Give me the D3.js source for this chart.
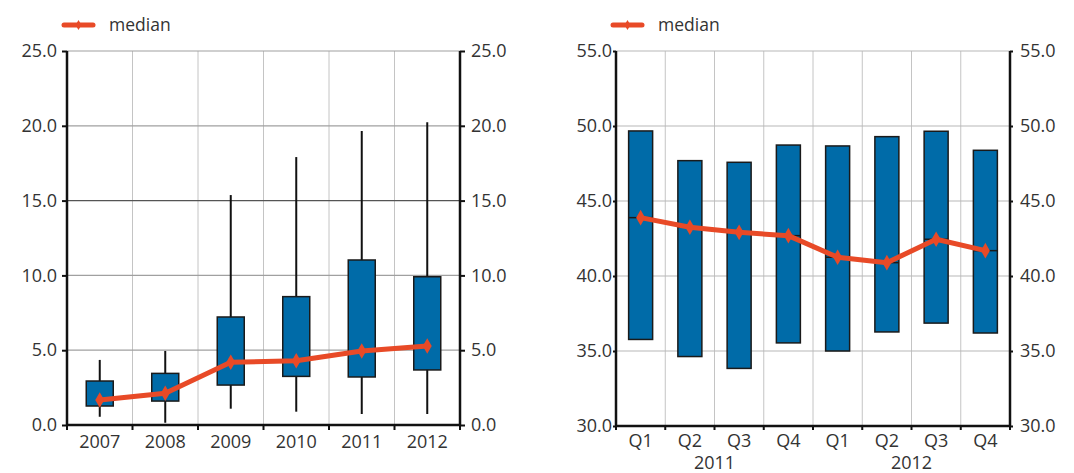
<!DOCTYPE html>
<html>
<head>
<meta charset="utf-8">
<script src="https://cdn.jsdelivr.net/npm/d3@7"></script>
<style>
  body { margin: 0; background: #fff; }
  text { font-family: "Open Sans", "Noto Sans", sans-serif; fill: #333; }
</style>
</head>
<body>
<svg id="chart" width="1074" height="473"></svg>
<script>
// left panel: yearly distribution
var years = ["2007", "2008", "2009", "2010", "2011", "2012"];
var yearMin = [0.55, 0.15, 1.09, 0.89, 0.73, 0.73];
var yearQ1 = [1.27, 1.6, 2.67, 3.25, 3.21, 3.68];
var yearQ3 = [2.94, 3.45, 7.22, 8.58, 11.03, 9.91];
var yearMax = [4.35, 4.95, 15.37, 17.91, 19.65, 20.23];
var yearMedian = [1.67, 2.12, 4.19, 4.3, 4.95, 5.28];
var yearTicks = [0, 5, 10, 15, 20, 25];

// right panel: quarterly range
var quarters = ["Q1", "Q2", "Q3", "Q4", "Q1", "Q2", "Q3", "Q4"];
var quarterYears = ["2011", "2012"];
var quarterLow = [35.77, 34.63, 33.84, 35.54, 35.0, 36.27, 36.86, 36.2];
var quarterHigh = [49.67, 47.69, 47.58, 48.73, 48.67, 49.29, 49.65, 48.38];
var quarterMedian = [43.89, 43.25, 42.91, 42.69, 41.25, 40.89, 42.45, 41.69];
var quarterTicks = [30, 35, 40, 45, 50, 55];

var blue = "#006ba8",
    red = "#e84a27",
    fs = "18px";

var svg = d3.select("#chart");
var fmt = d3.format(".1f");

function legend(x) {
  var g = svg.append("g").attr("transform", "translate(" + x + ",25)");
  g.append("line")
      .attr("x1", 0).attr("x2", 29)
      .attr("stroke", red).attr("stroke-width", 5).attr("stroke-linecap", "round");
  g.append("path")
      .attr("d", d3.symbol(d3.symbolDiamond, 30))
      .attr("transform", "translate(14.5,0)")
      .attr("fill", red);
  g.append("text")
      .attr("x", 45).attr("dy", "0.35em")
      .style("font-size", "17.5px")
      .text("median");
}

// ---------- left chart
(function() {
  var left = 67, right = 460, top = 51, bottom = 425;
  var x = d3.scaleBand().domain(years).range([left, right]);
  var y = d3.scaleLinear().domain([0, 25]).range([bottom, top]);
  var g = svg.append("g");
  var bw = 27;

  // grid
  g.selectAll(".vgrid")
    .data(years.slice(1))
    .enter().append("line")
      .attr("x1", function(d) { return x(d); })
      .attr("x2", function(d) { return x(d); })
      .attr("y1", top).attr("y2", bottom)
      .attr("stroke", "#c4c4c4");
  g.selectAll(".hgrid")
    .data(yearTicks.slice(1))
    .enter().append("line")
      .attr("x1", left).attr("x2", right)
      .attr("y1", function(d) { return y(d); })
      .attr("y2", function(d) { return y(d); })
      .attr("stroke", function(d) { return d == 15 ? "#555" : "#a0a0a0"; })
      .attr("stroke-width", 1.2);

  // whiskers
  g.selectAll(".whisker")
    .data(years)
    .enter().append("line")
      .attr("x1", function(d) { return x(d) + x.bandwidth() / 2; })
      .attr("x2", function(d) { return x(d) + x.bandwidth() / 2; })
      .attr("y1", function(d, i) { return y(yearMin[i]); })
      .attr("y2", function(d, i) { return y(yearMax[i]); })
      .attr("stroke", "#111").attr("stroke-width", 2);

  // boxes
  g.selectAll(".box")
    .data(years)
    .enter().append("rect")
      .attr("x", function(d) { return x(d) + x.bandwidth() / 2 - bw / 2; })
      .attr("width", bw)
      .attr("y", function(d, i) { return y(yearQ3[i]); })
      .attr("height", function(d, i) { return y(yearQ1[i]) - y(yearQ3[i]); })
      .attr("fill", blue).attr("stroke", "#1a1a1a").attr("stroke-width", 1.5);

  // axes
  var ax = g.append("g")
      .attr("transform", "translate(0," + bottom + ")")
      .call(d3.axisBottom(x).tickSize(0).tickPadding(10));
  ax.select(".domain").remove();
  ax.selectAll("text").style("font-size", fs).attr("fill", "#333");
  g.selectAll(".xtick")
    .data(d3.range(years.length + 1))
    .enter().append("line")
      .attr("x1", function(i) { return left + i * x.step(); })
      .attr("x2", function(i) { return left + i * x.step(); })
      .attr("y1", bottom).attr("y2", bottom + 5)
      .attr("stroke", "#111").attr("stroke-width", 2);

  var ay = g.append("g")
      .attr("transform", "translate(" + left + ",0)")
      .call(d3.axisLeft(y).tickValues(yearTicks).tickFormat(fmt).tickSize(5).tickPadding(5));
  var ay2 = g.append("g")
      .attr("transform", "translate(" + right + ",0)")
      .call(d3.axisRight(y).tickValues(yearTicks).tickFormat(fmt).tickSize(5).tickPadding(6));
  [ay, ay2].forEach(function(a) {
    a.select(".domain").remove();
    a.selectAll("line").attr("stroke", "#111").attr("stroke-width", 2);
    a.selectAll("text").style("font-size", fs).attr("fill", "#333");
  });
  g.append("line").attr("x1", left).attr("x2", left).attr("y1", top).attr("y2", bottom + 1)
      .attr("stroke", "#111").attr("stroke-width", 2.5);
  g.append("line").attr("x1", right).attr("x2", right).attr("y1", top).attr("y2", bottom + 1)
      .attr("stroke", "#111").attr("stroke-width", 2.5);
  g.append("line").attr("x1", left - 1).attr("x2", right + 1).attr("y1", bottom).attr("y2", bottom)
      .attr("stroke", "#111").attr("stroke-width", 2.5);

  // median
  var line = d3.line()
      .x(function(d, i) { return x(years[i]) + x.bandwidth() / 2; })
      .y(function(d) { return y(d); });
  g.append("path")
      .datum(yearMedian)
      .attr("d", line)
      .attr("fill", "none").attr("stroke", red).attr("stroke-width", 5)
      .attr("stroke-linejoin", "round");
  g.selectAll(".mk")
    .data(yearMedian)
    .enter().append("path")
      .attr("d", d3.symbol(d3.symbolDiamond, 70))
      .attr("transform", function(d, i) {
        return "translate(" + (x(years[i]) + x.bandwidth() / 2) + "," + y(d) + ")";
      })
      .attr("fill", red);

  legend(64);
})();

// ---------- right chart
(function() {
  var left = 616, right = 1010, top = 51, bottom = 426;
  var idx = d3.range(quarters.length);
  var x = d3.scaleBand().domain(idx).range([left, right]);
  var y = d3.scaleLinear().domain([30, 55]).range([bottom, top]);
  var g = svg.append("g");
  var bw = 24;

  g.selectAll(".vgrid")
    .data(idx.slice(1))
    .enter().append("line")
      .attr("x1", function(d) { return x(d); })
      .attr("x2", function(d) { return x(d); })
      .attr("y1", top).attr("y2", bottom)
      .attr("stroke", "#c4c4c4");
  g.selectAll(".hgrid")
    .data(quarterTicks.slice(1))
    .enter().append("line")
      .attr("x1", left).attr("x2", right)
      .attr("y1", function(d) { return y(d); })
      .attr("y2", function(d) { return y(d); })
      .attr("stroke", "#b8b8b8").attr("stroke-width", 1.2);

  g.selectAll(".bar")
    .data(idx)
    .enter().append("rect")
      .attr("x", function(d) { return x(d) + x.bandwidth() / 2 - bw / 2; })
      .attr("width", bw)
      .attr("y", function(d) { return y(quarterHigh[d]); })
      .attr("height", function(d) { return y(quarterLow[d]) - y(quarterHigh[d]); })
      .attr("fill", blue).attr("stroke", "#1a1a1a").attr("stroke-width", 1.5);
  g.selectAll(".mline")
    .data(idx)
    .enter().append("line")
      .attr("x1", function(d) { return x(d) + x.bandwidth() / 2 - bw / 2; })
      .attr("x2", function(d) { return x(d) + x.bandwidth() / 2 + bw / 2; })
      .attr("y1", function(d) { return y(quarterMedian[d]); })
      .attr("y2", function(d) { return y(quarterMedian[d]); })
      .attr("stroke", "#1a1a1a").attr("stroke-width", 1.5);

  var ax = g.append("g")
      .attr("transform", "translate(0," + bottom + ")")
      .call(d3.axisBottom(x).tickSize(0).tickPadding(8).tickFormat(function(i) { return quarters[i]; }));
  ax.select(".domain").remove();
  ax.selectAll("text").style("font-size", fs).attr("fill", "#333");
  g.selectAll(".yr")
    .data(quarterYears)
    .enter().append("text")
      .attr("x", function(d, i) { return x(i * 4 + 2); })
      .attr("y", 463)
      .attr("dy", "0.35em")
      .attr("text-anchor", "middle")
      .style("font-size", fs)
      .text(function(d) { return d; });
  g.selectAll(".xtick")
    .data(d3.range(quarters.length + 1))
    .enter().append("line")
      .attr("x1", function(i) { return left + i * x.step(); })
      .attr("x2", function(i) { return left + i * x.step(); })
      .attr("y1", bottom).attr("y2", bottom + 4)
      .attr("stroke", "#111").attr("stroke-width", 2);

  var ay = g.append("g")
      .attr("transform", "translate(" + left + ",0)")
      .call(d3.axisLeft(y).tickValues(quarterTicks).tickFormat(fmt).tickSize(3).tickPadding(1));
  var ay2 = g.append("g")
      .attr("transform", "translate(" + right + ",0)")
      .call(d3.axisRight(y).tickValues(quarterTicks).tickFormat(fmt).tickSize(3).tickPadding(7));
  [ay, ay2].forEach(function(a) {
    a.select(".domain").remove();
    a.selectAll("line").attr("stroke", "#111").attr("stroke-width", 2);
    a.selectAll("text").style("font-size", fs).attr("fill", "#333");
  });
  g.append("line").attr("x1", left).attr("x2", left).attr("y1", top).attr("y2", bottom + 1)
      .attr("stroke", "#111").attr("stroke-width", 2.5);
  g.append("line").attr("x1", right).attr("x2", right).attr("y1", top).attr("y2", bottom + 1)
      .attr("stroke", "#111").attr("stroke-width", 2.5);
  g.append("line").attr("x1", left - 1).attr("x2", right + 1).attr("y1", bottom).attr("y2", bottom)
      .attr("stroke", "#111").attr("stroke-width", 2.5);

  var line = d3.line()
      .x(function(d, i) { return x(i) + x.bandwidth() / 2; })
      .y(function(d) { return y(d); });
  g.append("path")
      .datum(quarterMedian)
      .attr("d", line)
      .attr("fill", "none").attr("stroke", red).attr("stroke-width", 5)
      .attr("stroke-linejoin", "round");
  g.selectAll(".mk")
    .data(quarterMedian)
    .enter().append("path")
      .attr("d", d3.symbol(d3.symbolDiamond, 70))
      .attr("transform", function(d, i) {
        return "translate(" + (x(i) + x.bandwidth() / 2) + "," + y(d) + ")";
      })
      .attr("fill", red);

  legend(613);
})();
</script>
</body>
</html>
